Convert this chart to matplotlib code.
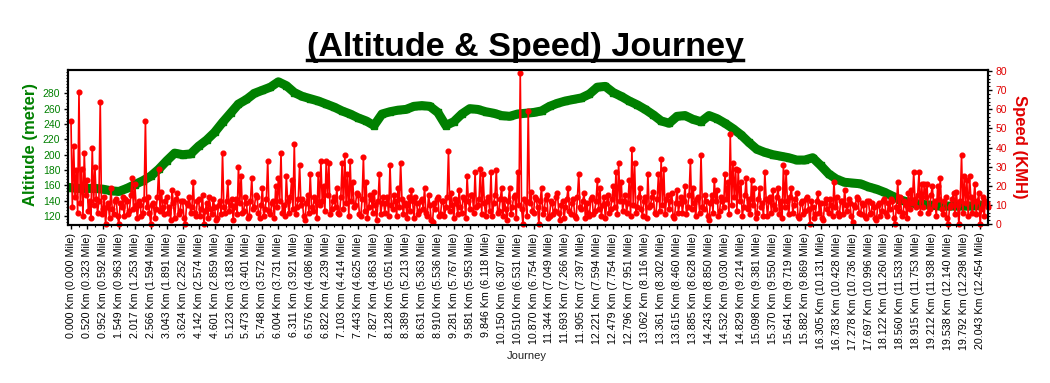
import numpy as np
import matplotlib
matplotlib.use("Agg")
import matplotlib.pyplot as plt
from matplotlib.ticker import MultipleLocator
from matplotlib.lines import Line2D

plt.rcParams['font.family'] = ['Liberation Sans', 'DejaVu Sans']

# distance labels along the journey (one every 12 samples)
km_marks = [0.000, 0.520, 0.952, 1.549, 2.017, 2.566, 3.043, 3.624, 4.142, 4.601,
            5.123, 5.473, 5.748, 6.004, 6.311, 6.576, 6.822, 7.103, 7.443, 7.827,
            8.128, 8.389, 8.631, 8.910, 9.281, 9.581, 9.846, 10.150, 10.510, 10.870,
            11.344, 11.693, 11.905, 12.221, 12.479, 12.796, 13.062, 13.361, 13.615, 13.885,
            14.243, 14.532, 14.829, 15.098, 15.370, 15.641, 15.882, 16.305, 16.783, 17.278,
            17.697, 18.122, 18.560, 18.915, 19.212, 19.538, 19.792, 20.043]
mile_marks = [0.000, 0.323, 0.592, 0.963, 1.253, 1.594, 1.891, 2.252, 2.574, 2.859,
              3.183, 3.401, 3.572, 3.731, 3.921, 4.086, 4.239, 4.414, 4.625, 4.863,
              5.051, 5.213, 5.363, 5.536, 5.767, 5.953, 6.118, 6.307, 6.531, 6.754,
              7.049, 7.266, 7.397, 7.594, 7.754, 7.951, 8.116, 8.302, 8.460, 8.628,
              8.850, 9.030, 9.214, 9.381, 9.550, 9.719, 9.869, 10.131, 10.428, 10.736,
              10.996, 11.260, 11.533, 11.753, 11.938, 12.140, 12.298, 12.454]
samples_per_mark = 12

# altitude (meter), read every 6 samples
altitude_step = 6
altitude = [157, 156, 156, 156, 155, 153, 152, 156, 161, 166,
            172, 181, 192, 202, 200, 201, 211, 219, 229, 242,
            254, 266, 272, 280, 284, 288, 295, 290, 281, 276,
            273, 270, 266, 262, 257, 253, 248, 244, 238, 253,
            256, 258, 259, 263, 264, 263, 255, 238, 243, 253,
            260, 259, 256, 254, 251, 250, 253, 254, 255, 257,
            263, 267, 270, 272, 274, 279, 288, 289, 281, 276,
            270, 265, 259, 252, 244, 241, 250, 251, 246, 243,
            251, 247, 241, 234, 226, 216, 207, 203, 200, 198,
            196, 193, 193, 196, 186, 175, 168, 164, 163, 162,
            158, 155, 151, 146, 141, 138, 136, 135, 134, 133,
            133, 133, 133, 133, 134]

# speed (KMH), one value per sample
speed = [
    54, 9, 41, 14, 28, 6, 69, 11, 29, 4, 37, 15, 23, 7, 12, 3, 40, 10, 30, 13,
    6, 12, 64, 5, 8, 14, 0, 9, 11, 3, 19, 8, 5, 12, 13, 4, 0, 11, 9, 14,
    4, 13, 12, 5, 7, 15, 24, 8, 21, 10, 3, 12, 10, 4, 6, 13, 54, 9, 14, 6,
    0, 10, 11, 3, 8, 14, 29, 7, 17, 9, 5, 12, 14, 6, 9, 2, 18, 11, 3, 13,
    16, 5, 7, 12, 12, 3, 0, 11, 10, 14, 6, 9, 22, 6, 4, 12, 13, 4, 8, 15,
    0, 7, 11, 3, 14, 8, 5, 13, 9, 2, 3, 10, 12, 5, 37, 9, 6, 12, 22, 7,
    10, 13, 2, 9, 13, 5, 30, 11, 25, 6, 7, 14, 11, 3, 4, 12, 24, 8, 9, 15,
    14, 6, 3, 10, 19, 4, 8, 13, 33, 7, 5, 11, 12, 3, 20, 9, 24, 12, 37, 6,
    10, 4, 25, 12, 6, 14, 23, 8, 42, 5, 9, 13, 31, 10, 13, 4, 2, 11, 15, 6,
    26, 9, 7, 14, 12, 3, 26, 10, 33, 12, 20, 7, 33, 15, 32, 5, 8, 12, 14, 9,
    19, 6, 5, 14, 32, 8, 36, 11, 26, 4, 33, 12, 22, 9, 10, 16, 15, 5, 4, 13,
    35, 7, 22, 3, 9, 15, 13, 6, 17, 10, 2, 12, 26, 5, 11, 14, 6, 11, 14, 4,
    31, 10, 8, 15, 12, 4, 19, 9, 32, 13, 5, 11, 10, 3, 14, 7, 18, 12, 3, 14,
    11, 5, 7, 12, 13, 8, 19, 6, 4, 15, 10, 2, 1, 11, 8, 13, 14, 4, 5, 12,
    12, 4, 9, 14, 38, 7, 16, 10, 3, 13, 11, 5, 18, 9, 6, 14, 13, 3, 25, 12,
    8, 15, 15, 6, 27, 9, 10, 13, 29, 5, 26, 11, 4, 12, 14, 7, 27, 4, 11, 15,
    28, 6, 7, 13, 19, 4, 13, 8, 2, 12, 19, 5, 9, 14, 15, 3, 27, 10, 79, 8,
    0, 13, 12, 4, 59, 11, 17, 7, 6, 14, 13, 9, 0, 12, 19, 5, 8, 13, 15, 3,
    4, 12, 11, 5, 7, 14, 16, 6, 2, 10, 12, 3, 9, 13, 19, 7, 5, 11, 13, 4,
    3, 14, 26, 9, 8, 12, 16, 3, 11, 6, 4, 13, 14, 5, 7, 12, 23, 8, 19, 4,
    10, 14, 3, 11, 15, 6, 8, 13, 20, 9, 27, 5, 32, 12, 22, 7, 12, 15, 6, 11,
    23, 4, 39, 10, 32, 6, 9, 14, 19, 8, 4, 12, 14, 3, 26, 9, 10, 14, 17, 6,
    5, 13, 26, 7, 34, 10, 29, 5, 13, 15, 8, 12, 16, 4, 3, 11, 18, 6, 11, 14,
    6, 12, 20, 5, 9, 15, 33, 8, 19, 11, 4, 13, 14, 6, 36, 9, 8, 15, 12, 4,
    2, 11, 15, 6, 23, 12, 18, 4, 7, 14, 12, 9, 26, 13, 22, 5, 47, 10, 32, 14,
    29, 7, 28, 12, 22, 4, 9, 15, 24, 8, 13, 5, 23, 10, 19, 3, 6, 13, 19, 9,
    11, 4, 27, 13, 4, 12, 14, 6, 18, 10, 8, 14, 19, 5, 12, 3, 31, 9, 27, 12,
    5, 14, 19, 6, 10, 13, 16, 4, 3, 11, 12, 5, 7, 13, 14, 8, 0, 12, 9, 3,
    5, 12, 16, 6, 11, 3, 2, 11, 13, 8, 6, 13, 10, 4, 22, 9, 14, 6, 4, 12,
    12, 5, 18, 10, 7, 13, 11, 4, 1, 10, 9, 14, 13, 6, 5, 11, 10, 4, 3, 12,
    12, 5, 6, 11, 9, 3, 2, 10, 11, 4, 7, 12, 13, 6, 4, 11, 8, 13, 12, 3,
    0, 9, 22, 7, 14, 4, 6, 12, 10, 3, 16, 8, 18, 11, 27, 13, 9, 15, 27, 6,
    21, 9, 21, 14, 21, 6, 8, 15, 20, 10, 12, 4, 20, 13, 24, 8, 5, 12, 14, 3,
    0, 9, 10, 13, 16, 5, 17, 10, 0, 12, 36, 6, 25, 11, 23, 4, 25, 14, 6, 12,
    21, 5, 12, 16, 0, 8, 14, 4, 12, 11, 9]

tick_labels = [f"{k:.3f} Km ({m:.3f} Mile)" for k, m in zip(km_marks, mile_marks)]
tick_pos = np.arange(len(km_marks)) * samples_per_mark
alt_x = np.arange(len(altitude)) * altitude_step
speed_x = np.arange(len(speed))

green = '#008000'
red = '#ff0000'

# one label step is ~15.95 px; left spine sits 3 px before the first label
px_per_sample = 15.95 / samples_per_mark

fig = plt.figure(figsize=(10.5, 3.83), dpi=100)
ax = fig.add_axes([68 / 1050, 1 - 225 / 383, 920 / 1050, 155 / 383])

ax.plot(alt_x, altitude, color=green, lw=6.5, marker='s', ms=4)
ax.set_xlim(-3 / px_per_sample, 917 / px_per_sample)
ax.set_ylim(108.3, 310.4)

ax.set_xticks(tick_pos)
ax.set_xticklabels(tick_labels, rotation=90, fontsize=7.7)
ax.xaxis.set_minor_locator(MultipleLocator(samples_per_mark / 2))
ax.set_yticks(range(120, 281, 20))
ax.yaxis.set_minor_locator(MultipleLocator(4))
ax.tick_params(axis='y', which='both', labelcolor=green, labelsize=7.5)
ax.tick_params(which='major', length=3, width=1, pad=2.5)
ax.tick_params(which='minor', length=1.5, width=0.8)

ax2 = ax.twinx()
ax2.plot(speed_x, speed, color=red, lw=1.2, marker='o', ms=3.4, clip_on=False)
ax2.set_ylim(-0.5, 80.5)
ax2.set_yticks(range(0, 81, 10))
ax2.yaxis.set_minor_locator(MultipleLocator(2))
ax2.tick_params(axis='y', which='both', labelcolor='#e00000', labelsize=7.5)
ax2.tick_params(which='major', length=3, width=1, pad=2.5)
ax2.tick_params(which='minor', length=1.5, width=0.8)

for a in (ax, ax2):
    for sp in a.spines.values():
        sp.set_linewidth(1.5)
        sp.set_color('black')

fig.text(30 / 1050, 1 - 145 / 383, 'Altitude (meter)', rotation=90, color=green,
         fontsize=12, fontweight='bold', ha='center', va='center')
fig.text(1019 / 1050, 1 - 147 / 383, 'Speed (KMH)', rotation=270, color='#e00000',
         fontsize=12, fontweight='bold', ha='center', va='center')
fig.text(527 / 1050, 1 - 356 / 383, 'Journey', fontsize=8, color='#222222',
         ha='center', va='center')

title = fig.text(0.5, 1 - 56 / 383, '(Altitude & Speed) Journey', fontsize=24.5,
                 fontweight='bold', ha='center', va='baseline')

# underline the title
fig.canvas.draw()
bb = title.get_window_extent().transformed(fig.transFigure.inverted())
uy = 1 - 60 / 383
fig.add_artist(Line2D([bb.x0, bb.x1], [uy, uy], transform=fig.transFigure,
                      color='black', lw=2.5))

fig.savefig('out.png', dpi=100)
